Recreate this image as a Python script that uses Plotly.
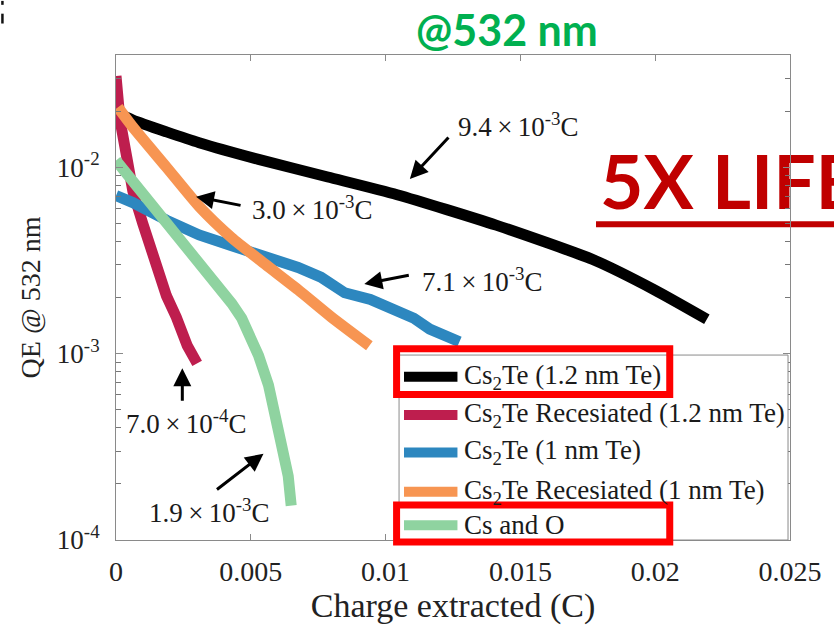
import numpy as np
import plotly.graph_objects as go

# ---- data: charge extracted (C) vs QE at 532 nm ----
charge_cs2te_12 = [0, 0.000624, 0.001872, 0.003084, 0.005286, 0.007856, 0.010426,
                   0.014097, 0.017768, 0.01997, 0.021916]
qe_cs2te_12 = [0.0197, 0.01789, 0.01547, 0.01354, 0.01102, 0.00886, 0.00712,
               0.00489, 0.00316, 0.0022, 0.00153]

charge_cs2te_12_re = [0, 0.000147, 0.00040, 0.000624, 0.000991, 0.001358, 0.001872,
                      0.002239, 0.002386, 0.002643, 0.00301]
qe_cs2te_12_re = [0.0309, 0.0180, 0.0113, 0.00745, 0.0050, 0.00335, 0.00204,
                  0.001566, 0.00137, 0.001102, 0.000886]

charge_cs2te_1 = [0, 0.000624, 0.001872, 0.003084, 0.004295, 0.005543, 0.006755,
                  0.007599, 0.00848, 0.009435, 0.010426, 0.01105, 0.011637,
                  0.012372, 0.012739]
qe_cs2te_1 = [0.00704, 0.00646, 0.0052, 0.00433, 0.00379, 0.00332, 0.0029,
              0.00257, 0.00212, 0.00195, 0.001725, 0.001547, 0.001354,
              0.001244, 0.001157]

charge_cs2te_1_re = [0.000073, 0.000624, 0.001872, 0.003084, 0.004295, 0.005543,
                     0.006755, 0.007966, 0.009398]
qe_cs2te_1_re = [0.02095, 0.01643, 0.0100, 0.00616, 0.00418, 0.00301,
                 0.0022, 0.00158, 0.001102]

charge_cs_o = [0, 0.000624, 0.001872, 0.003084, 0.004295, 0.004662, 0.00492,
               0.005287, 0.005654, 0.00591, 0.00613, 0.006388, 0.006498]
qe_cs_o = [0.01088, 0.00844, 0.00507, 0.00312, 0.001856, 0.001547, 0.00129,
           0.000976, 0.000679, 0.000489, 0.000328, 0.00022, 0.000153]

series_names = [
    "Cs<sub>2</sub>Te (1.2 nm Te)",
    "Cs<sub>2</sub>Te Recesiated (1.2 nm Te)",
    "Cs<sub>2</sub>Te (1 nm Te)",
    "Cs<sub>2</sub>Te Recesiated (1 nm Te)",
    "Cs and O",
]
series_colors = ["#000000", "#BE1E4E", "#2D87BF", "#F79552", "#8FD3A0"]
series_x = [charge_cs2te_12, charge_cs2te_12_re, charge_cs2te_1, charge_cs2te_1_re, charge_cs_o]
series_y = [qe_cs2te_12, qe_cs2te_12_re, qe_cs2te_1, qe_cs2te_1_re, qe_cs_o]
series_shape = ["spline", "linear", "linear", "spline", "linear"]

# lifetime callouts: arrow head (charge, QE), tail offset (px), label position (charge, QE)
TIMES = "\u2009×\u2009"
callout_text = [
    f"9.4{TIMES}10<sup>-3</sup>C",
    f"3.0{TIMES}10<sup>-3</sup>C",
    f"7.1{TIMES}10<sup>-3</sup>C",
    f"7.0{TIMES}10<sup>-4</sup>C",
    f"1.9{TIMES}10<sup>-3</sup>C",
]
callout_head_x = [0.0109, 0.00297, 0.00921, 0.00246, 0.00547]
callout_head_y = [10 ** -2.063, 10 ** -2.158, 10 ** -2.626, 10 ** -3.079, 10 ** -3.537]
callout_tail_dx = [40, 46, 46, 0, -48]
callout_tail_dy = [-43, 9, -9, 34, 37]
callout_label_x = [0.01494, 0.00727, 0.01358, 0.00261, 0.00345]
callout_label_y = [10 ** -1.774, 10 ** -2.221, 10 ** -2.605, 10 ** -3.368, 10 ** -3.847]

x_ticks = [0, 0.005, 0.01, 0.015, 0.02, 0.025]
x_ticktext = ["0", "0.005", "0.01", "0.015", "0.02", "0.025"]
y_ticks = [1e-4, 1e-3, 1e-2]
y_ticktext = ["10<sup>-4</sup>", "10<sup>-3</sup>", "10<sup>-2</sup>"]

# ---- figure geometry (pixels) ----
W, H = 834, 626
L, R, T, B = 116, 797, 55, 548


def px(x):
    return (x - L) / (R - L)


def py(y):
    return (B - y) / (B - T)


SERIF = "Liberation Serif, Times New Roman, serif"
SANS = "Lato, Open Sans, sans-serif"
AXIS_GREY = "#8a8a8a"

fig = go.Figure()
for name, color, xs, ys, shp in zip(series_names, series_colors, series_x, series_y, series_shape):
    fig.add_trace(go.Scatter(x=xs, y=ys, mode="lines", name=name, showlegend=False,
                             line=dict(color=color, width=11, shape=shp, smoothing=0.6)))

# headline text sits in the trace layer so the right-hand axis frame runs over it
fig.add_trace(go.Scatter(x=[0.01795], y=[10 ** -2.126], mode="text",
                         text=["<b>5X LIFE</b>"], textposition="middle right",
                         textfont=dict(family=SANS, size=75, color="#C00000"),
                         cliponaxis=False, showlegend=False, hoverinfo="skip"))

shapes = []
annotations = []

# callout arrows and labels
for txt, hx, hy, dx, dy, lx, ly in zip(callout_text, callout_head_x, callout_head_y,
                                       callout_tail_dx, callout_tail_dy,
                                       callout_label_x, callout_label_y):
    annotations.append(dict(x=hx, y=np.log10(hy), xref="x", yref="y", text="",
                            showarrow=True, ax=dx, ay=dy, arrowhead=2, arrowsize=1.2,
                            arrowwidth=3, arrowcolor="#000000", standoff=0))
    annotations.append(dict(x=lx, y=np.log10(ly), xref="x", yref="y", text=txt,
                            showarrow=False, xanchor="center", yanchor="middle",
                            font=dict(family=SERIF, size=27, color="#1a1a1a")))

# legend box drawn inside the axes
legend_rows = [382, 421, 459, 499, 533]
shapes.append(dict(type="rect", xref="paper", yref="paper", layer="above",
                   x0=px(402), x1=px(795), y0=py(548), y1=py(360),
                   line=dict(color=AXIS_GREY, width=1), fillcolor="white"))
for name, color, ry in zip(series_names, series_colors, legend_rows):
    shapes.append(dict(type="line", xref="paper", yref="paper", layer="above",
                       x0=px(407), x1=px(461), y0=py(ry), y1=py(ry),
                       line=dict(color=color, width=10)))
    annotations.append(dict(x=px(466), y=py(ry), xref="paper", yref="paper", text=name,
                            showarrow=False, xanchor="left", yanchor="middle",
                            font=dict(family=SERIF, size=27, color="#1a1a1a")))

# red highlight frames around two legend entries
for y0, y1 in [(353.5, 400), (512.5, 550)]:
    shapes.append(dict(type="rect", xref="paper", yref="paper", layer="above",
                       x0=px(399.5), x1=px(675.5), y0=py(y1), y1=py(y0),
                       line=dict(color="#FF0000", width=7), fillcolor="rgba(0,0,0,0)"))

# wavelength tag
annotations.append(dict(x=px(511.5), y=py(29), xref="paper", yref="paper",
                        text="<b>@532 nm</b>", showarrow=False,
                        xanchor="center", yanchor="middle",
                        font=dict(family=SANS, size=43, color="#00B050")))
# underline of the headline
shapes.append(dict(type="line", xref="paper", yref="paper", layer="below",
                   x0=px(601), x1=px(850), y0=py(227), y1=py(227),
                   line=dict(color="#C00000", width=6)))

# small dark marks at the top-left corner
for y0, y1 in [(0, 4), (13, 23)]:
    shapes.append(dict(type="rect", xref="paper", yref="paper", layer="above",
                       x0=px(0), x1=px(2.5), y0=py(y1), y1=py(y0),
                       line=dict(width=0), fillcolor="#111111"))

fig.update_layout(
    width=W, height=H,
    margin=dict(l=L, r=W - R, t=T, b=H - B, pad=0),
    paper_bgcolor="white", plot_bgcolor="white",
    showlegend=False,
    shapes=shapes,
    annotations=annotations,
    font=dict(family=SERIF, color="#222222"),
)

fig.update_xaxes(
    range=[0, 0.025], tickmode="array", tickvals=x_ticks, ticktext=x_ticktext,
    showline=True, linecolor=AXIS_GREY, linewidth=1, mirror="ticks",
    ticks="inside", ticklen=6, tickcolor=AXIS_GREY, tickwidth=1,
    showgrid=False, zeroline=False,
    tickfont=dict(family=SERIF, size=28, color="#222222"), ticklabelstandoff=6,
    title=dict(text="Charge extracted (C)", standoff=4,
               font=dict(family=SERIF, size=34, color="#222222")),
)
fig.update_yaxes(
    type="log", range=[-4, np.log10(0.04)], tickmode="array",
    tickvals=y_ticks, ticktext=y_ticktext,
    showline=True, linecolor=AXIS_GREY, linewidth=1, mirror="ticks",
    ticks="inside", ticklen=7, tickcolor=AXIS_GREY, tickwidth=1,
    minor=dict(ticks="inside", dtick="D1", ticklen=5,
               tickcolor="#777777", tickwidth=1, showgrid=False),
    showgrid=False, zeroline=False,
    tickfont=dict(family=SERIF, size=27, color="#222222"), ticklabelstandoff=10,
    title=dict(text="QE @ 532 nm", standoff=8,
               font=dict(family=SERIF, size=28, color="#222222")),
)

fig.write_html("out.html", config={"displayModeBar": False})
